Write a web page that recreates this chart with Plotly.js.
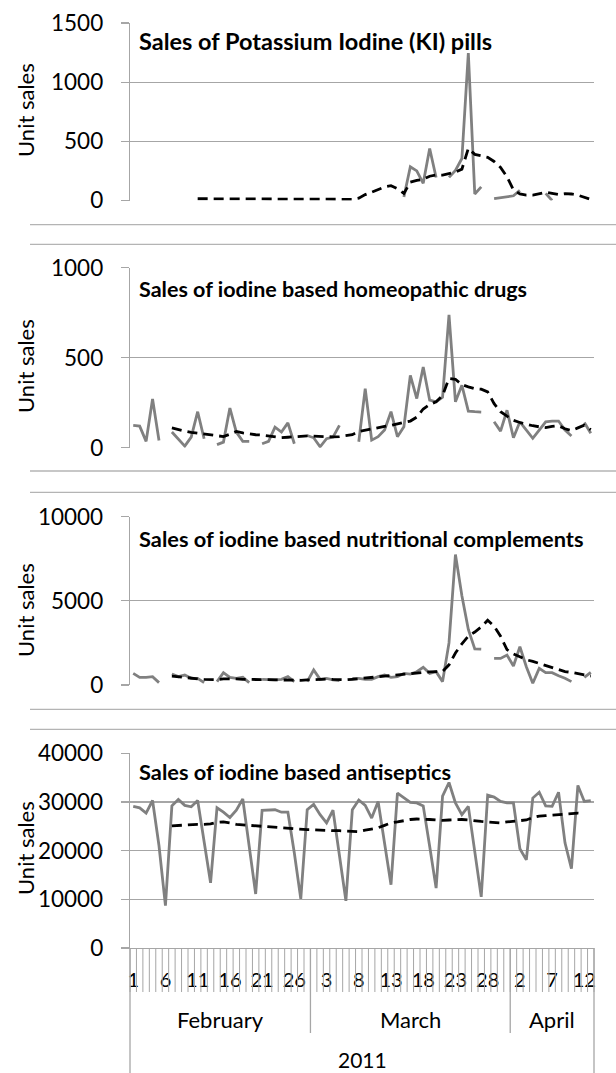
<!DOCTYPE html>
<html>
<head>
<meta charset="utf-8">
<script src="https://cdn.plot.ly/plotly-3.0.1.min.js"></script>
<style>html,body{margin:0;padding:0;background:#fff}#chart{width:616px;height:1073px}</style>
</head>
<body>
<div id="chart"></div>
<script>
// ---------------- DATA ----------------
const dayLabels = ['1','6','11','16','21','26','3','8','13','18','23','28','2','7','12'];
const months = ['February','March','April'];
const monthDays = [28,31,13];
const yearLabel = '2011';
const panelTitles = [
  'Sales of Potassium Iodine (KI) pills',
  'Sales of iodine based homeopathic drugs',
  'Sales of iodine based nutritional complements',
  'Sales of iodine based antiseptics'
];
const yTitle = 'Unit sales';

const N = null;
const kiSales = [N,N,N,N,N,N,N,N,N,N, N,N,N,N,N,N,N,N,N,N, N,N,N,N,N,N,N,N,N,N, N,N,N,N,N,N,N,N,N,N,
  N,N,30,285,250,145,440,195,N,195, 255,355,1245,55,115,N,15,25,35,40, 85,N,N,N,60,0,N,N,N,N, N,N];
const kiTrend = [N,N,N,N,N,N,N,N,N,N, 15,15,15,15,15,15,15,15,15,15, 15,12,12,12,12,12,12,12,12,12,
  12,10,10,10,10,20,50,70,95,115, 125,100,60,155,170,180,205,215,215,225, 240,265,440,390,375,365,330,280,200,90,
  55,45,45,55,70,60,50,58,55,45, 30,10];

const homeoSales = [124,120,35,271,40,N,87,45,9,59, 200,50,N,17,31,220,87,35,35,N, 22,35,114,87,138,22,N,68,55,5,
  50,59,124,N,N,33,328,42,61,98, 200,61,116,402,273,448,264,255,280,738, 255,347,203,200,198,N,144,92,208,55,
  144,98,52,98,144,148,148,98,65,N, 140,80];
const homeoTrend = [N,N,N,N,N,N,110,100,92,85, 80,76,72,68,62,75,90,82,75,72, 70,66,60,56,58,62,66,66,64,62,
  60,60,62,66,72,90,98,105,112,118, 124,132,140,148,170,215,240,255,290,385, 380,350,338,328,325,310,245,200,175,152,
  140,130,122,116,112,118,122,105,95,110, 125,100];

const nutriSales = [690,455,455,495,140,N,650,495,590,395, 395,140,N,200,730,455,395,455,140,N, 335,300,300,335,495,200,N,200,890,335,
  395,300,260,N,395,395,335,335,495,590, 455,495,690,650,790,1050,690,790,200,2500, 7750,5300,3300,2150,2130,N,1580,1580,1780,1130,
  2270,1090,100,990,730,730,550,400,200,N, 450,750];
const nutriTrend = [N,N,N,N,N,N,530,480,440,400, 370,330,310,320,360,380,360,340,330,320, 320,310,300,290,290,290,280,300,330,350,
  350,330,310,310,340,380,420,450,480,520, 560,600,650,690,720,760,780,790,800,1200, 1900,2450,2900,3150,3450,3850,3500,2900,2100,1850,
  1650,1500,1400,1280,1130,1000,890,800,750,690, 600,530];

const antiSales = [29100,28800,27700,30300,21000,8700,29200,30500,29300,29000, 30300,21500,13400,28800,27900,26800,28300,30600,20900,11100,
  28300,28300,28400,27900,27900,19500,10100,28400,29500,27400, 25700,28300,18800,9700,28400,30400,29300,26700,30100,21600,
  13000,31800,30800,29900,29800,29200,20900,12300,31200,34000, 29800,27400,29100,20200,10500,31400,31000,30100,29800,29800,
  20400,18100,30800,32000,29200,29100,32000,21600,16300,33400, 30100,30300];
const antiTrend = [N,N,N,N,N,N,25100,25200,25300,25400, 25400,25400,25500,25800,25900,25700,25400,25300,25200,25100,
  24900,24800,24800,24700,24600,24500,24400,24300,24300,24200, 24200,24100,24100,24000,23900,23900,24200,24500,24700,25200,
  25700,25900,26200,26400,26500,26500,26400,26300,26200,26300, 26400,26400,26300,26100,26000,25900,25800,25700,25900,26000,
  26100,26300,26800,27100,27200,27300,27400,27500,27600,27700, 27600];

const yRanges = [[0,1500],[0,1000],[0,10000],[0,40000]];
const yDticks = [500,500,5000,10000];

// ---------------- LAYOUT GEOMETRY ----------------
const W = 616, H = 1073, ML = 130, MR = 22, MT = 23, MB = 125;
const PW = W - ML - MR, PH = H - MT - MB;
const py = ypx => (H - MB - ypx) / PH;          // pixel y -> paper y
const pxX = xpx => (xpx - ML) / PW;             // pixel x -> paper x
const panelPx = [[22.7,200.5],[267.7,447.7],[516.7,685],[753.3,948]];
const titlePx = [41, 289, 538, 771];
const titleSize = [23.5, 21.5, 21.8, 21.8];
const yTitlePx = [110, 366, 610, 848];
const sepPx = [224.7, 244.3, 471, 492.3, 709.3, 729.3];

const nDays = antiSales.length;
const xIdx = antiSales.map((_, i) => i);
const tickIdx = dayLabels.map((_, k) => k * 5);

const FONT = 'Lato, "Open Sans", sans-serif';
const GRID = '#a6a6a6';
const series = [[kiSales,kiTrend],[homeoSales,homeoTrend],[nutriSales,nutriTrend],[antiSales,antiTrend]];

const traces = [];
series.forEach((s, k) => {
  const ya = k === 0 ? 'y' : 'y' + (k + 1);
  traces.push({x: xIdx, y: s[0], xaxis: 'x', yaxis: ya, type: 'scatter', mode: 'lines',
    line: {color: '#808080', width: 2.8}, connectgaps: false, hoverinfo: 'skip'});
  traces.push({x: xIdx, y: s[1], xaxis: 'x', yaxis: ya, type: 'scatter', mode: 'lines',
    line: {color: '#000000', width: 2.8, dash: '10px,6px'}, connectgaps: false, hoverinfo: 'skip'});
});

const layout = {
  width: W, height: H,
  margin: {l: ML, r: MR, t: MT, b: MB, pad: 0},
  paper_bgcolor: '#ffffff', plot_bgcolor: 'rgba(0,0,0,0)',
  showlegend: false,
  font: {family: FONT, color: '#000'},
  xaxis: {
    domain: [0, 1], range: [-0.5, nDays - 0.5], anchor: 'y4',
    tickmode: 'array', tickvals: tickIdx, ticktext: dayLabels,
    ticks: '', showgrid: false, zeroline: false,
    showline: true, linecolor: GRID, linewidth: 1.3,
    tickfont: {family: FONT, size: 20, color: '#000'},
    ticklabelstandoff: 14, fixedrange: true
  },
  annotations: [], shapes: []
};

panelPx.forEach((p, k) => {
  const key = k === 0 ? 'yaxis' : 'yaxis' + (k + 1);
  layout[key] = {
    domain: [py(p[1]), py(p[0])], range: yRanges[k], dtick: yDticks[k], tick0: 0,
    tickformat: 'd',
    anchor: 'x', showgrid: true, gridcolor: GRID, gridwidth: 1.3,
    zeroline: false, showline: true, linecolor: GRID, linewidth: 1.3,
    ticks: 'outside', ticklen: 8, tickcolor: GRID, tickwidth: 1.3,
    tickfont: {family: FONT, size: 22.5, color: '#000'},
    ticklabelstandoff: 13, fixedrange: true
  };
  layout.annotations.push({
    xref: 'paper', yref: 'paper', x: pxX(137), y: py(titlePx[k]),
    xanchor: 'left', yanchor: 'middle', showarrow: false,
    text: '<b>' + panelTitles[k] + '</b>',
    font: {family: FONT, size: titleSize[k], color: '#000'}
  });
  layout.annotations.push({
    xref: 'paper', yref: 'paper', x: pxX(25), y: py(yTitlePx[k]),
    xanchor: 'center', yanchor: 'middle', showarrow: false, textangle: -90,
    text: yTitle, font: {family: FONT, size: 22, color: '#000'}
  });
});

// chart border separators
sepPx.forEach(s => layout.shapes.push({
  type: 'line', xref: 'paper', yref: 'paper', x0: pxX(30), x1: pxX(616), y0: py(s), y1: py(s),
  line: {color: '#b4b4b4', width: 1.3}
}));

// category axis tick marks between days
for (let i = 0; i <= nDays; i++) {
  layout.shapes.push({type: 'line', xref: 'paper', yref: 'paper', x0: i / nDays, x1: i / nDays,
    y0: 0, y1: py(992), line: {color: GRID, width: 1}});
}
// month separators and labels
let start = 0;
const bounds = [0];
monthDays.forEach((d, m) => {
  layout.annotations.push({xref: 'paper', yref: 'paper', x: (start + d / 2) / nDays, y: py(1019),
    xanchor: 'center', yanchor: 'middle', showarrow: false, text: months[m],
    font: {family: FONT, size: 22, color: '#000'}});
  start += d; bounds.push(start);
});
bounds.forEach((b, j) => {
  const outer = (j === 0 || j === bounds.length - 1);
  layout.shapes.push({type: 'line', xref: 'paper', yref: 'paper', x0: b / nDays, x1: b / nDays,
    y0: 0, y1: outer ? py(1073) : py(1033), line: {color: GRID, width: 1.3}});
});
layout.annotations.push({xref: 'paper', yref: 'paper', x: 0.5, y: py(1059),
  xanchor: 'center', yanchor: 'middle', showarrow: false, text: yearLabel,
  font: {family: FONT, size: 21, color: '#000'}});

Plotly.newPlot('chart', traces, layout, {staticPlot: true, displayModeBar: false});
</script>
</body>
</html>
